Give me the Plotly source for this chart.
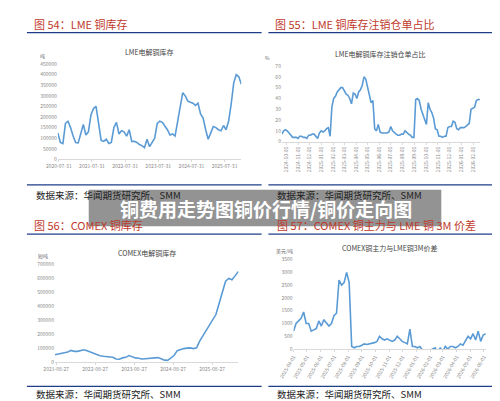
import plotly.graph_objects as go
import pandas as pd

W, H = 500, 401

lme_stock = [125,80,75,170,180,150,110,80,78,120,165,115,130,210,240,250,180,
             90,85,95,75,80,150,175,120,135,130,110,140,85,85,80,70,65,55,95,60,80,100,170,180,
             175,160,140,115,120,110,180,240,315,300,275,270,265,255,265,215,195,140,95,125,155,150,
             140,135,160,140,180,260,360,400,390,355]
lme_stock = [v*1000 for v in lme_stock]
lme_ticks = ["2020-07-31","2021-07-31","2022-07-31","2023-07-31","2024-07-31","2025-07-31"]

cancel_pct = [7,10,11,10,8,6,4,4,4,3,5,5,4,4,3,6,6,7,7,5,3,8,10,9,10,12,13,5,32,40,42,46,48,50,50,47,
              44,43,40,35,45,44,40,46,48,52,60,58,50,44,36,38,12,10,16,9,8,8,8,8,9,14,10,8,7,6,6,7,7,10,
              8,7,6,4,4,39,40,38,30,25,20,16,36,30,27,22,12,11,5,5,4,5,5,13,14,14,19,18,12,11,13,13,13,
              14,16,17,30,31,32,38,39,39]

comex_stock = [50,55,58,60,70,82,75,75,82,86,80,70,58,50,44,40,38,36,33,20,18,28,32,45,35,28,25,20,22,
               24,28,32,30,22,12,10,30,45,80,90,95,98,100,95,100,150,190,220,270,300,340,420,500,
               580,600,590,620,650]
comex_stock = [v*1000 for v in comex_stock]
comex_ticks = ["2021-08-27","2022-08-27","2023-08-27","2024-08-27","2025-08-27"]

spread = [700,1000,1100,1200,1450,1000,1000,700,750,800,1100,900,1150,1000,900,1000,1300,1400,2700,2500,
          2600,3000,2600,100,50,100,100,150,200,180,200,220,250,300,500,400,350,400,350,300,350,500,400,
          300,250,200,780,100,100,50,100,-50,-100,-100,-50,0,50,-150,50,-100,100,0,100,100,50,100,200,150,
          300,500,400,600,350,700,300,550,600]

BLUE = "#5B9BD5"
fig = go.Figure()

def px(x): return x / W
def py(y): return 1 - y / H

panels = [
    dict(x=pd.date_range("2020-07-20", "2026-02-01", periods=len(lme_stock)), y=lme_stock,
         dom=(35, 225, 53, 150), yr=(0, 450000), dt=50000, ticks=lme_ticks, angle=0,
         ytitle="吨", ctitle="LME电解铜库存"),
    dict(x=pd.date_range("2024-09-19", "2026-02-19", periods=len(cancel_pct)), y=cancel_pct,
         dom=(267, 472, 55, 132), yr=(0, 70), dt=10, ticks=None, angle=-90,
         ytitle="%", ctitle="LME电解铜库存注销仓单占比"),
    dict(x=pd.date_range("2021-08-15", "2026-05-01", periods=len(comex_stock)), y=comex_stock,
         dom=(32, 222, 257, 356), yr=(0, 700000), dt=100000, ticks=comex_ticks, angle=0,
         ytitle="短吨", ctitle="COMEX电解铜库存"),
    dict(x=pd.date_range("2025-04-01", "2026-06-05", periods=len(spread)), y=spread,
         dom=(279, 478, 252, 343), yr=(0, 3500), dt=500, ticks=None, angle=-60,
         ytitle="美元/吨", ctitle="COMEX铜主力与LME铜3M价差"),
]

for i, p in enumerate(panels):
    n = "" if i == 0 else str(i + 1)
    fig.add_trace(go.Scatter(x=p["x"], y=p["y"], mode="lines", line=dict(color=BLUE, width=1.6),
                             xaxis="x" + n, yaxis="y" + n, showlegend=False, cliponaxis=False))
    x0, x1, y0, y1 = p["dom"]
    xa = dict(domain=[px(x0), px(x1)], anchor="y" + n, showgrid=False, showline=True,
              linecolor="#d9d9d9", tickfont=dict(size=5, color="#888"), tickangle=p["angle"],
              ticks="outside", ticklen=2, tickcolor="#d9d9d9")
    if p["ticks"]:
        xa.update(tickvals=pd.to_datetime(p["ticks"]), ticktext=p["ticks"])
    else:
        xa.update(dtick="M1", tickformat="%Y-%m-%d")
    if i == 3:
        ya = dict(domain=[py(y1), py(y0)], anchor="x" + n, range=[0, 3500],
                  tickvals=[-500, 0, 500, 1000, 1500, 2000, 2500, 3000, 3500],
                  showgrid=False, zeroline=False, tickfont=dict(size=5, color="#888"))
    else:
        ya = dict(domain=[py(y1), py(y0)], anchor="x" + n, range=list(p["yr"]), dtick=p["dt"],
                  tickformat="d", showgrid=False, zeroline=False, tickfont=dict(size=5, color="#888"))
    fig.layout["xaxis" + n] = xa
    fig.layout["yaxis" + n] = ya
    fig.add_annotation(x=px((x0 + x1) / 2), y=py(y0 - 12), xref="paper", yref="paper",
                       xanchor="center", yanchor="middle",
                       text=p["ctitle"], showarrow=False, font=dict(size=7, color="#444"))
    fig.add_annotation(x=px(x0 - 20), y=py(y0 - 9), xref="paper", yref="paper", xanchor="left",
                       yanchor="middle", text=p["ytitle"], showarrow=False, font=dict(size=5, color="#666"))

titles = [("图 54：LME 铜库存", 8, 12), ("图 55：LME 铜库存注销仓单占比", 258, 12),
          ("图 56：COMEX 铜库存", 8, 217), ("图 57：COMEX 铜主力与 LME 铜 3M 价差", 260, 217)]
for t, x, y in titles:
    fig.add_annotation(x=px(x), y=py(y), xref="paper", yref="paper", xanchor="left", yanchor="middle",
                       text=t, showarrow=False,
                       font=dict(size=11, color="#c0392b", family="Noto Sans CJK SC"))
for x0, x1, y in [(3, 246, 21), (253, 497, 21), (3, 246, 226), (253, 497, 226),
                  (3, 246, 176), (253, 497, 176), (3, 246, 381), (253, 497, 381)]:
    fig.add_shape(type="line", xref="paper", yref="paper", x0=px(x0), x1=px(x1), y0=py(y), y1=py(y),
                  line=dict(color="#1f3c88", width=1.2))
for x in [10, 260]:
    for y in [186, 389]:
        fig.add_annotation(x=px(x), y=py(y), xref="paper", yref="paper", xanchor="left",
                           yanchor="middle", text="数据来源：华闻期货研究所、SMM", showarrow=False,
                           font=dict(size=9.5, color="#222", family="Noto Sans CJK SC"))

fig.add_shape(type="rect", xref="paper", yref="paper", x0=px(67), x1=px(432), y0=py(218), y1=py(181),
              fillcolor="rgba(128,128,128,0.85)", line=dict(width=0))
fig.add_annotation(x=0.5, y=py(199.5), xref="paper", yref="paper", xanchor="center", yanchor="middle",
                   text="<b>铜费用走势图铜价行情/铜价走向图</b>",
                   showarrow=False, font=dict(size=19, color="white", family="Noto Sans CJK SC"))

fig.update_layout(width=W, height=H, margin=dict(l=0, r=0, t=0, b=0), plot_bgcolor="white",
                  paper_bgcolor="white", font=dict(family="Noto Sans CJK SC"))
fig.write_html("out.html")
